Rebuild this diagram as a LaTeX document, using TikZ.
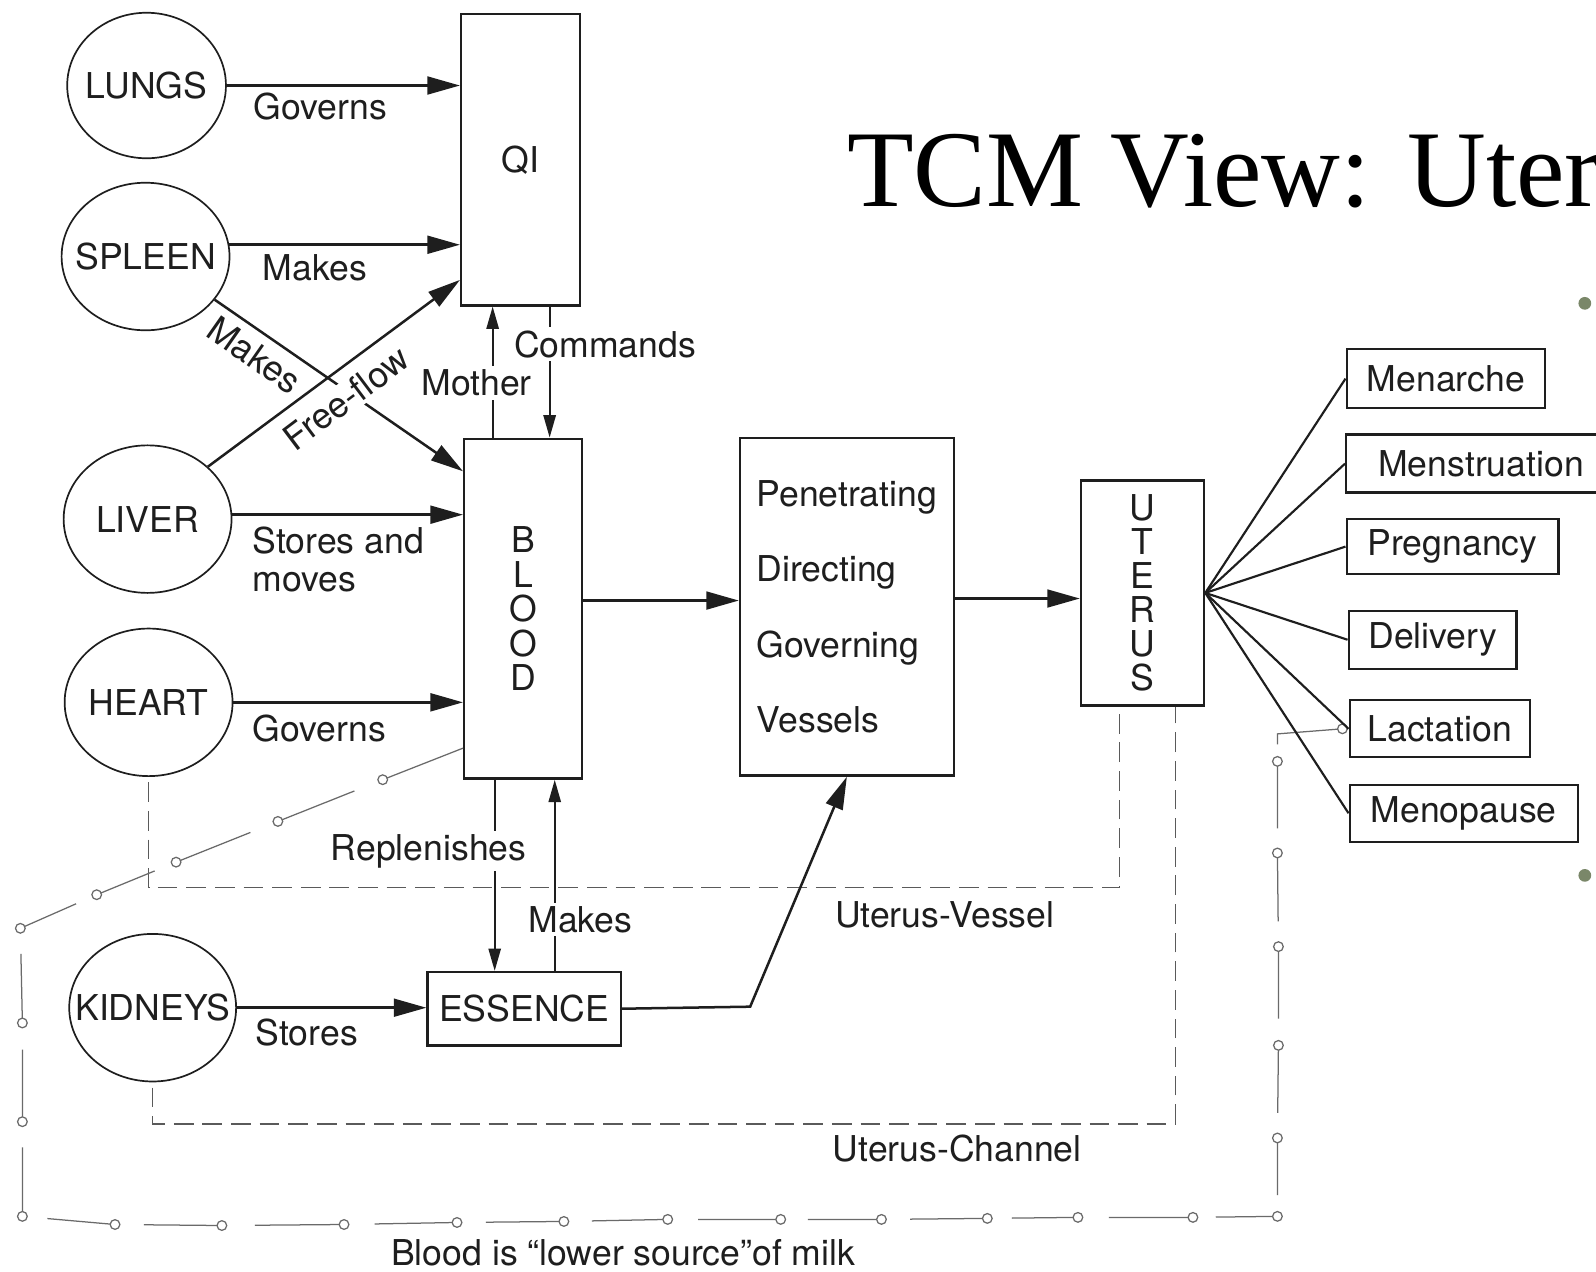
\documentclass[tikz,border=0pt]{standalone}
\usepackage{fontspec}
\setmainfont{TeX Gyre Heros}
\newfontfamily\titlefont{Liberation Serif}
\usetikzlibrary{shapes.geometric,arrows.meta,calc}
\definecolor{ink}{HTML}{1E1E1E}
\definecolor{dashc}{HTML}{5A5A5A}
\definecolor{milkc}{HTML}{6A6A6A}
\definecolor{bul}{HTML}{7A8769}
\newcommand\dfont{\fontsize{19.9}{22}\selectfont}
\begin{document}
\begin{tikzpicture}[x=0.02cm,y=-0.02cm,
  organ/.style={ellipse,draw=ink,line width=0.95pt,inner sep=0pt,minimum width=3.3cm,minimum height=2.9cm},
  box/.style={rectangle,draw=ink,line width=1.3pt,inner sep=0pt,font=\dfont,text=ink},
  lab/.style={font=\dfont,text=ink,inner sep=0pt},
  gaplab/.style={font=\dfont,text=ink,fill=white,inner xsep=1pt,inner ysep=2pt},
  arr/.style={draw=ink,line width=1.4pt,-{Triangle[length=0.64cm,width=0.35cm]}},
  sarr/.style={draw=ink,line width=1.2pt,-{Triangle[length=0.44cm,width=0.24cm]}},
  chan/.style={draw=dashc,line width=0.9pt,dash pattern=on 11pt off 5pt},
  milk/.style={draw=milkc,line width=0.7pt},
  ring/.style={circle,draw=milkc,line width=0.7pt,fill=white,inner sep=0pt,minimum size=0.19cm},
  fan/.style={draw=ink,line width=1.2pt},
  bullet/.style={circle,fill=bul,inner sep=0pt,minimum size=0.25cm},
]
\fill[white] (0,0) rectangle (1568,1249);
\useasboundingbox (0,0) rectangle (1568,1249);
\clip (0,0) rectangle (1568,1249);

% title and bullets
\node[font=\titlefont\fontsize{61}{61}\selectfont,anchor=base west,inner sep=0pt] (title) at (832,203) {TCM View: Uterus};
\node[bullet] (bul1) at (1557,298) {};
\node[bullet] (bul2) at (1557,860) {};

% organs
\node[organ,minimum width=3.12cm,minimum height=2.86cm] (lungs) at (144,84) {};
\node[lab] (lungsT) at (lungs) {LUNGS};
\node[organ] (spleen) at (143,252) {};
\node[lab] (spleenT) at (spleen) {SPLEEN};
\node[organ] (liver) at (145,510) {};
\node[lab] (liverT) at (liver) {LIVER};
\node[organ] (heart) at (146,690) {};
\node[lab] (heartT) at (heart) {HEART};
\node[organ,minimum width=3.28cm] (kidneys) at (150,990) {};
\node[lab] (kidneysT) at (kidneys) {KIDNEYS};

% boxes
\node[box,minimum width=2.34cm,minimum height=5.72cm] (qi) at (511.5,157) {QI};
\node[box,minimum width=2.32cm,minimum height=6.68cm,align=center,font=\fontsize{19.9}{19.3}\selectfont] (blood) at (514,598) {B\\L\\O\\O\\D};
\node[box,minimum width=4.2cm,minimum height=6.64cm,align=left,font=\fontsize{19.9}{42.1}\selectfont] (pen) at (832,596) {Penetrating\\Directing\\Governing\\Vessels};
\node[box,minimum width=2.42cm,minimum height=4.42cm,align=center,font=\fontsize{19.9}{19.1}\selectfont] (uterus) at (1122.5,582.5) {U\\T\\E\\R\\U\\S};
\node[box,minimum width=3.8cm,minimum height=1.44cm] (essence) at (515,991) {ESSENCE};

\node[box,minimum width=3.9cm,minimum height=1.16cm] (men) at (1420.5,372) {Menarche};
\node[box,minimum width=5.3cm,minimum height=1.14cm] (mens) at (1455,455.5) {Menstruation};
\node[box,minimum width=4.16cm,minimum height=1.08cm] (preg) at (1427,537) {Pregnancy};
\node[box,minimum width=3.3cm,minimum height=1.14cm] (deliv) at (1407.5,628.5) {Delivery};
\node[box,minimum width=3.54cm,minimum height=1.12cm] (lact) at (1414.5,716) {Lactation};
\node[box,minimum width=4.48cm,minimum height=1.12cm] (meno) at (1438,799) {Menopause};

% helper levels
\coordinate (y275) at (0,275);
\coordinate (y463) at (0,463);
\coordinate (y590) at (0,590);
\coordinate (y588) at (0,588);
\coordinate (y735) at (0,735);
\coordinate (x484) at (484,0);
\coordinate (x540) at (540,0);
\coordinate (x486) at (486,0);
\coordinate (x545) at (545,0);

% channels (dashed)
\coordinate (uv) at (1100,872);
\draw[chan] ([yshift=-3pt]heart.south) |- (uv) -- (uterus.south -| uv);
\coordinate (uc) at (1155,1104);
\draw[chan] ([yshift=-3pt]kidneys.south) |- (uc) -- (uterus.south -| uc);
\node[lab,anchor=base west] (lv) at (820,911) {Uterus-Vessel};
\node[lab,anchor=base west] (lc) at (818,1141) {Uterus-Channel};

% milk path
\coordinate (m0) at (blood.west |- y735);
\coordinate (m1) at (376,766);
\coordinate (m2) at (273,807);
\coordinate (m3) at (173,847);
\coordinate (m4) at (95,879);
\coordinate (m5) at (20,912);
\coordinate (m6) at (22,1005);
\coordinate (m7) at (22,1102);
\coordinate (m8) at (22,1195);
\coordinate (m9) at (113,1203);
\coordinate (m10) at (218,1204);
\coordinate (m11) at (338,1203);
\coordinate (m12) at (449,1201);
\coordinate (m13) at (554,1200);
\coordinate (m14) at (656,1198);
\coordinate (m15) at (767,1198);
\coordinate (m16) at (866,1198);
\coordinate (m17) at (970,1197);
\coordinate (m18) at (1059,1196);
\coordinate (m19) at (1172,1196);
\coordinate (m20) at (1255,1195);
\coordinate (m21) at (1255,1118);
\coordinate (m22) at (1256,1027);
\coordinate (m23) at (1256,930);
\coordinate (m24) at (1255,838);
\coordinate (m25) at (1255,748);
\coordinate (mc) at (1255,721);
\coordinate (mend) at ($(lact.west)+(-6,0)$);
\draw[milk] (m0) -- (m1);
\foreach \i [remember=\i as \j (initially 1)] in {2,...,25}
  \draw[milk] ($(m\j)!0.27!(m\i)$) -- (m\i);
\draw[milk] ($(m25)!0.62!(mc)$) -- (mc) -- (mend);
\foreach \i in {1,...,25} \node[ring] (r\i) at (m\i) {};
\node[ring] (rend) at (mend) {};
\node[lab,anchor=base west] (milklab) at (384,1243) {Blood is “lower source”of milk};

% organ arrows
\draw[arr] (lungs.east) -- (lungs.east -| qi.west);
\node[lab,anchor=base west] (l1) at (249,117) {Governs};
\draw[arr] (spleen.8) -- (spleen.8 -| qi.west);
\node[lab,anchor=base west] (l2) at (258,276) {Makes};
\draw[arr] (spleen.-32) -- (blood.west |- y463);
\node[lab,rotate=-35] (l3) at (250,349) {Makes};
\draw[arr] (liver.41) -- (qi.west |- y275);
\node[lab,fill=white,inner sep=1.5pt,rotate=37] (l4) at (340,391) {Free-flow};
\draw[arr] (liver.3) -- (liver.3 -| blood.west);
\node[lab,anchor=base west] (l5) at (248,544) {Stores and};
\node[lab,anchor=base west] (l6) at (248,581) {moves};
\draw[arr] (heart.east) -- (heart.east -| blood.west);
\node[lab,anchor=base west] (l7) at (248,728) {Governs};
\draw[arr] (kidneys.east) -- (kidneys.east -| essence.west);
\node[lab,anchor=base west] (l8) at (251,1027) {Stores};

% qi / blood / essence
\draw[sarr] (blood.north -| x484) -- (qi.south -| x484);
\node[gaplab,anchor=base west] (l9) at (412,389) {Mother};
\draw[sarr] (qi.south -| x540) -- (blood.north -| x540);
\node[gaplab,anchor=base west] (l10) at (503,351) {Commands};
\draw[sarr] (blood.south -| x486) -- (essence.north -| x486);
\node[gaplab,anchor=base west] (l11) at (323,845) {Replenishes};
\draw[sarr] (essence.north -| x545) -- (blood.south -| x545);
\node[gaplab,anchor=base west] (l12) at (517,916) {Makes};

% main flow
\draw[arr] (blood.east |- y590) -- (pen.west |- y590);
\draw[arr] (pen.east |- y588) -- (uterus.west |- y588);
\coordinate (ep) at (737,989);
\draw[arr] (essence.east) -- (ep) -- (pen.south);

% fan
\foreach \b in {men,mens,preg,deliv,lact,meno}
  \draw[fan] (uterus.east) -- (\b.west);
\end{tikzpicture}
\end{document}
